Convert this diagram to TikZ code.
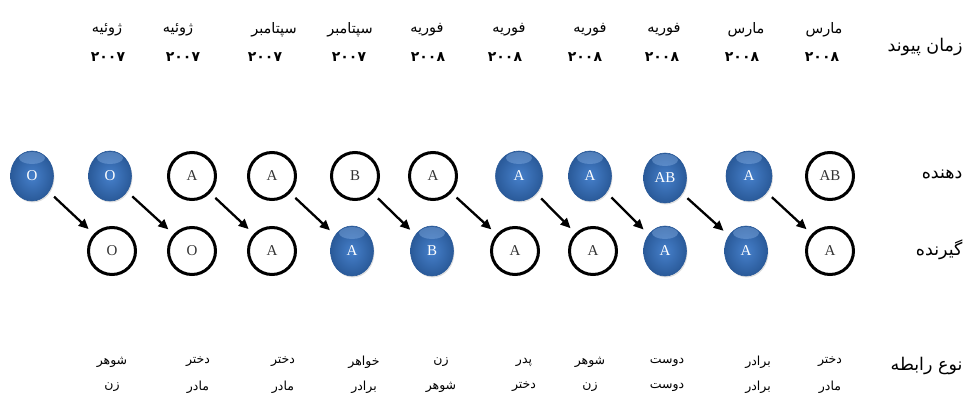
\documentclass[tikz,border=0pt]{standalone}
\usepackage{fontspec}
\setmainfont{Liberation Serif}
\newfontfamily\fa[Script=Arabic]{DejaVu Sans}
\TeXXeTstate=1
\usetikzlibrary{shapes.geometric,arrows.meta,shadows}

\definecolor{ballmid}{HTML}{4680CB}
\definecolor{balldark}{HTML}{2A5A99}
\definecolor{ballhi}{HTML}{8DB6EA}
\definecolor{ringtext}{HTML}{333333}

% right-to-left Persian text
\newcommand\rtl[1]{{\fa\beginR #1\endR}}

\begin{document}
\begin{tikzpicture}[x=1pt,y=-1pt,
  month/.style={font=\fa\fontsize{14.5}{16}\selectfont},
  year/.style={font=\fa\bfseries\fontsize{14}{16}\selectfont},
  rel/.style={font=\fa\fontsize{12.5}{14}\selectfont},
  rowlabel/.style={font=\fa\fontsize{17.5}{20}\selectfont, anchor=east},
  blueball/.style={ellipse, minimum width=43pt, minimum height=50pt, inner sep=0pt,
    draw=balldark, line width=0.6pt, inner color=ballmid, outer color=balldark,
    text=white, font=\fontsize{15}{15}\selectfont,
    drop shadow={shadow xshift=1pt, shadow yshift=-1.5pt, opacity=0.25},
    path picture={\fill[ballhi, opacity=0.4]
      ([yshift=-7pt]path picture bounding box.north) ellipse [x radius=13pt, y radius=6pt];}},
  ring/.style={circle, minimum size=47pt, inner sep=0pt, draw=black, line width=3pt,
    fill=white, text=ringtext, font=\fontsize{15}{15}\selectfont},
  arr/.style={-{Triangle[length=10pt,width=9pt]}, line width=2.3pt,
    shorten <=7pt, shorten >=7pt}]
\useasboundingbox (0,0) rectangle (966,398);

% transplant dates
\foreach \x/\m [count=\i from 2] in {107/ژوئیه, 178/ژوئیه, 274/سپتامبر, 350/سپتامبر,
    427/فوریه, 509/فوریه, 590/فوریه, 664/فوریه, 746/مارس, 824/مارس}
  \node[month] (mon\i) at (\x,30) {\rtl{\m}};
\foreach \x/\yr [count=\i from 2] in {108/۲۰۰۷, 183/۲۰۰۷, 265/۲۰۰۷, 349/۲۰۰۷,
    428/۲۰۰۸, 505/۲۰۰۸, 585/۲۰۰۸, 662/۲۰۰۸, 742/۲۰۰۸, 822/۲۰۰۸}
  \node[year] (yr\i) at (\x,57) {\yr};

% row labels
\node[rowlabel] (lbltime) at (966,47) {\rtl{زمان پیوند}};
\node[rowlabel] (lbldonor) at (966,175) {\rtl{دهنده}};
\node[rowlabel] (lblrecip) at (966,250) {\rtl{گیرنده}};
\node[rowlabel] (lblrel) at (966,366) {\rtl{نوع رابطه}};

% donors
\node[blueball] (d1) at (32,176) {O};
\node[blueball] (d2) at (110,176) {O};
\node[ring] (d3) at (192,176) {A};
\node[ring] (d4) at (272,176) {A};
\node[ring] (d5) at (355,176) {B};
\node[ring] (d6) at (433,176) {A};
\node[blueball, minimum width=47pt] (d7) at (519,176) {A};
\node[blueball] (d8) at (590,176) {A};
\node[blueball] (d9) at (665,178) {AB};
\node[blueball, minimum width=46pt] (d10) at (749,176) {A};
\node[ring] (d11) at (830,176) {AB};

% recipients
\node[ring] (r2) at (112,251) {O};
\node[ring] (r3) at (192,251) {O};
\node[ring] (r4) at (272,251) {A};
\node[blueball] (r5) at (352,251) {A};
\node[blueball] (r6) at (432,251) {B};
\node[ring] (r7) at (515,251) {A};
\node[ring] (r8) at (593,251) {A};
\node[blueball] (r9) at (665,251) {A};
\node[blueball] (r10) at (746,251) {A};
\node[ring] (r11) at (830,251) {A};

% donor -> recipient
\foreach \i [evaluate=\i as \j using int(\i+1)] in {1,...,10}
  \draw[arr] (d\i) -- (r\j);

% relationships (donor / recipient)
\foreach \x/\a/\b [count=\i from 2] in {112/شوهر/زن, 198/دختر/مادر, 283/دختر/مادر,
    364/خواهر/برادر, 441/زن/شوهر, 524/پدر/دختر, 590/شوهر/زن, 667/دوست/دوست,
    758/برادر/برادر, 830/دختر/مادر}
{
  \node[rel] (rela\i) at (\x,362) {\rtl{\a}};
  \node[rel] (relb\i) at (\x,387) {\rtl{\b}};
}
\end{tikzpicture}
\end{document}
